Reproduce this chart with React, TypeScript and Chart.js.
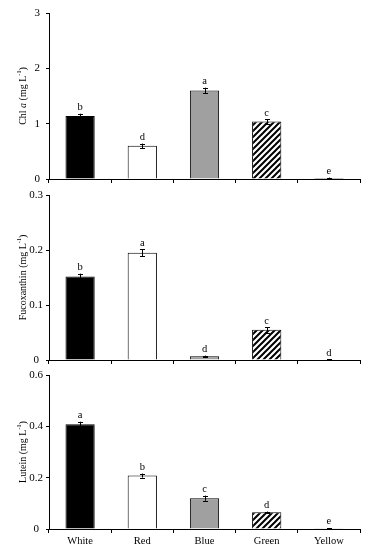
import React, { useEffect, useRef } from "react";
import { Chart, registerables } from "chart.js";

Chart.register(...registerables);

const categories = ["White", "Red", "Blue", "Green", "Yellow"];

const chlValues = [1.14, 0.6, 1.6, 1.04, 0.02];
const chlErrors = [0.04, 0.04, 0.05, 0.04, 0.005];
const chlLetters = ["b", "d", "a", "c", "e"];

const fucoValues = [0.152, 0.195, 0.007, 0.055, 0.001];
const fucoErrors = [0.005, 0.006, 0.001, 0.005, 0.0005];
const fucoLetters = ["b", "a", "d", "c", "d"];

const luteinValues = [0.408, 0.208, 0.12, 0.065, 0.003];
const luteinErrors = [0.01, 0.008, 0.01, 0.003, 0.001];
const luteinLetters = ["a", "b", "c", "d", "e"];

const chlAxis = { max: 3, step: 1 };
const fucoAxis = { max: 0.3, step: 0.1 };
const luteinAxis = { max: 0.6, step: 0.2 };

type Seg = { t: string; italic?: boolean; sup?: boolean };

const chlTitle: Seg[] = [
  { t: "Chl " },
  { t: "a", italic: true },
  { t: " (mg L" },
  { t: "-1", sup: true },
  { t: ")" },
];
const fucoTitle: Seg[] = [{ t: "Fucoxanthin (mg L" }, { t: "-1", sup: true }, { t: ")" }];
const luteinTitle: Seg[] = [{ t: "Lutein (mg L" }, { t: "-1", sup: true }, { t: ")" }];

const FONT = "'Liberation Serif', 'Times New Roman', serif";

type Panel = {
  values: number[];
  errors: number[];
  letters: string[];
  axis: { max: number; step: number };
  title: Seg[];
  showX: boolean;
  top: number;
  height: number;
  padTop: number;
  xHeight: number;
  yPad: number;
};

const panels: Panel[] = [
  { values: chlValues, errors: chlErrors, letters: chlLetters, axis: chlAxis, title: chlTitle, showX: false, top: 0, height: 185, padTop: 13, xHeight: 6, yPad: 6 },
  { values: fucoValues, errors: fucoErrors, letters: fucoLetters, axis: fucoAxis, title: fucoTitle, showX: false, top: 185, height: 180, padTop: 10, xHeight: 5, yPad: 3 },
  { values: luteinValues, errors: luteinErrors, letters: luteinLetters, axis: luteinAxis, title: luteinTitle, showX: true, top: 365, height: 185, padTop: 10, xHeight: 21, yPad: 3 },
];

function makeHatch(): CanvasPattern | string {
  const c = document.createElement("canvas");
  const s = 6;
  c.width = s;
  c.height = s;
  const g = c.getContext("2d");
  if (!g) return "#fff";
  g.fillStyle = "#fff";
  g.fillRect(0, 0, s, s);
  g.strokeStyle = "#000";
  g.lineWidth = 2;
  g.beginPath();
  g.moveTo(-1, s + 1);
  g.lineTo(s + 1, -1);
  g.moveTo(-s / 2 - 1, s / 2 + 1);
  g.lineTo(s / 2 + 1, -s / 2 - 1);
  g.moveTo(s / 2 - 1, s * 1.5 + 1);
  g.lineTo(s * 1.5 + 1, s / 2 - 1);
  g.stroke();
  const p = g.createPattern(c, "repeat");
  return p || "#fff";
}

function makeConfig(p: Panel): any {
  const hatch = makeHatch();
  const extras = {
    id: "extras",
    afterDatasetsDraw(chart: any) {
      const ctx = chart.ctx as CanvasRenderingContext2D;
      const y = chart.scales.y;
      const meta = chart.getDatasetMeta(0);
      ctx.save();
      ctx.strokeStyle = "#000";
      ctx.fillStyle = "#000";
      ctx.lineWidth = 1;
      p.values.forEach((v, i) => {
        const el = meta.data[i];
        const x = Math.round(el.x) + 0.5;
        const yt = y.getPixelForValue(v + p.errors[i]);
        const yb = y.getPixelForValue(Math.max(0, v - p.errors[i]));
        ctx.beginPath();
        ctx.moveTo(x, yb);
        ctx.lineTo(x, yt);
        ctx.moveTo(x - 2.5, Math.round(yt) + 0.5);
        ctx.lineTo(x + 2.5, Math.round(yt) + 0.5);
        ctx.moveTo(x - 2.5, Math.round(yb) + 0.5);
        ctx.lineTo(x + 2.5, Math.round(yb) + 0.5);
        ctx.stroke();
        ctx.font = `10.5px ${FONT}`;
        ctx.textAlign = "center";
        ctx.textBaseline = "alphabetic";
        ctx.fillText(p.letters[i], el.x, yt - 3.5);
      });
      // y-axis title
      const area = chart.chartArea;
      const cy = (area.top + area.bottom) / 2;
      const size = 10;
      const fontOf = (s: Seg) =>
        `${s.italic ? "italic " : ""}${s.sup ? size * 0.62 : size}px ${FONT}`;
      let total = 0;
      const widths = p.title.map((s) => {
        ctx.font = fontOf(s);
        const w = ctx.measureText(s.t).width;
        total += w;
        return w;
      });
      ctx.translate(22, cy);
      ctx.rotate(-Math.PI / 2);
      ctx.textAlign = "left";
      let xx = -total / 2;
      p.title.forEach((s, i) => {
        ctx.font = fontOf(s);
        ctx.fillText(s.t, xx, s.sup ? size * 0.35 - size * 0.42 : size * 0.35);
        xx += widths[i];
      });
      ctx.restore();
    },
  };

  return {
    type: "bar",
    data: {
      labels: categories,
      datasets: [
        {
          data: p.values,
          backgroundColor: ["#000000", "#ffffff", "#a0a0a0", hatch, "#000000"],
          borderColor: "#000000",
          borderWidth: 1,
          borderSkipped: "bottom",
          categoryPercentage: 1,
          barPercentage: 0.47,
        },
      ],
    },
    options: {
      responsive: false,
      animation: false,
      events: [],
      layout: { padding: { top: p.padTop, left: 0, right: 10, bottom: 0 } },
      plugins: { legend: { display: false }, tooltip: { enabled: false } },
      scales: {
        x: {
          afterFit: (s: any) => {
            s.height = p.xHeight;
            s.paddingLeft = 0;
            s.paddingRight = 0;
          },
          grid: {
            offset: true,
            drawOnChartArea: false,
            drawTicks: true,
            tickLength: 4,
            color: "#000",
          },
          border: { color: "#000", width: 1 },
          ticks: {
            display: p.showX,
            color: "#000",
            padding: 2,
            font: { family: FONT, size: 10.5 },
          },
        },
        y: {
          min: 0,
          max: p.axis.max,
          afterFit: (s: any) => {
            s.width = 49;
            s.paddingTop = 0;
            s.paddingBottom = 0;
          },
          grid: {
            drawOnChartArea: false,
            drawTicks: true,
            tickLength: 3,
            color: "#000",
          },
          border: { color: "#000", width: 1 },
          ticks: {
            stepSize: p.axis.step,
            color: "#000",
            padding: p.yPad,
            crossAlign: "center",
            font: { family: FONT, size: 11 },
            callback: (v: any) => String(Math.round(Number(v) * 10) / 10),
          },
        },
      },
    },
    plugins: [extras],
  };
}

export default function App() {
  const r0 = useRef<HTMLCanvasElement>(null);
  const r1 = useRef<HTMLCanvasElement>(null);
  const r2 = useRef<HTMLCanvasElement>(null);
  const refs = [r0, r1, r2];

  useEffect(() => {
    const charts = panels.map((p, i) => new Chart(refs[i].current as HTMLCanvasElement, makeConfig(p)));
    return () => charts.forEach((c) => c.destroy());
  }, []);

  return (
    <div style={{ position: "absolute", left: 0, top: 0, width: 370, height: 550, background: "#fff" }}>
      {panels.map((p, i) => (
        <canvas
          key={i}
          ref={refs[i]}
          width={370}
          height={p.height}
          style={{ position: "absolute", left: 0, top: p.top, width: 370, height: p.height }}
        />
      ))}
    </div>
  );
}
